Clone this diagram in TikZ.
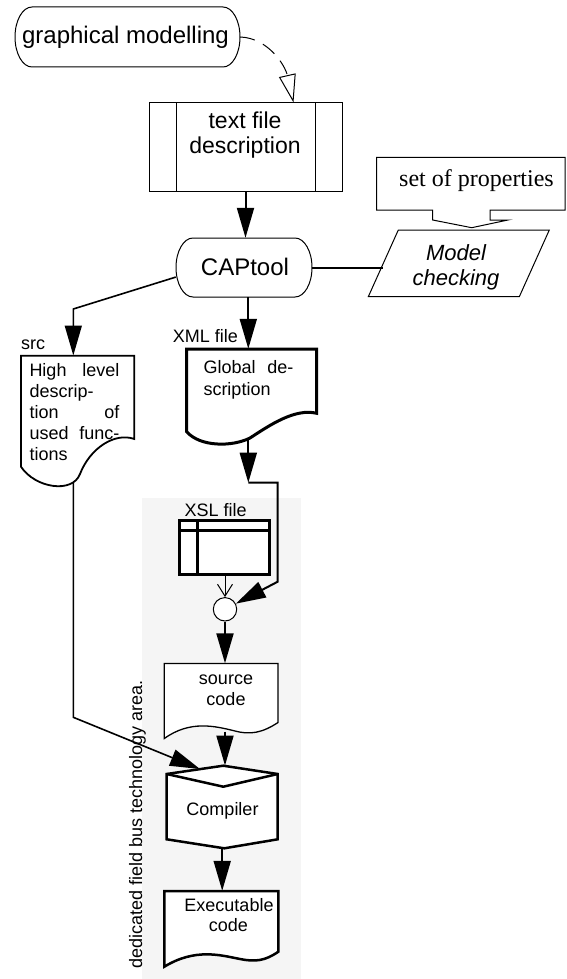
\documentclass[tikz,border=0pt]{standalone}
\usepackage{fontspec}
\setmainfont{Liberation Sans}
\newfontfamily\timesfont{Liberation Serif}
\usetikzlibrary{arrows.meta,calc}
\definecolor{areagrey}{HTML}{F5F5F5}
\begin{document}
\begin{tikzpicture}[x=1pt,y=-1pt,
  big/.style={font=\fontsize{24}{21}\selectfont, inner sep=0pt},
  bigtwo/.style={font=\fontsize{23}{25.8}\selectfont, inner sep=0pt},
  small/.style={font=\fontsize{18}{21}\selectfont, inner sep=0pt},
  mcfont/.style={font=\fontsize{22}{24.8}\selectfont\itshape, inner sep=0pt},
  frame/.style={draw=none, inner sep=0pt, rectangle},
  thinline/.style={line width=1pt},
  conn/.style={line width=2pt},
  tipfill/.style={-{Triangle[length=30pt,width=17pt]}},
]
\useasboundingbox (0,0) rectangle (566,979);
\fill[areagrey] (142,498) rectangle (301,979);

% graphical modelling
\node[frame, minimum width=225pt, minimum height=60pt] (gm) at (127.5,37) {};
\draw[thinline, fill=white] (32,7) -- (223,7) .. controls (232.4,7) and (240,20.4) .. (240,37) .. controls (240,53.6) and (232.4,67) .. (223,67) -- (32,67) .. controls (22.6,67) and (15,53.6) .. (15,37) .. controls (15,20.4) and (22.6,7) .. (32,7) -- cycle;
\node[big, anchor=base] (gmt) at (125.5,44) {graphical modelling};

% text file description
\node[draw, thinline, fill=white, minimum width=193pt, minimum height=88pt, inner sep=0pt] (tf) at (245.5,147) {};
\draw[thinline] (176.7,103) -- (176.7,191) (315.7,103) -- (315.7,191);
\node[bigtwo, align=center] (tft) at (245,135) {text file\\description};

% CAPtool
\node[frame, minimum width=136pt, minimum height=59pt] (cap) at (244,267.5) {};
\draw[thinline, fill=white] (193,238) -- (295,238) .. controls (304.4,238) and (312,251.2) .. (312,267.5) .. controls (312,283.8) and (304.4,297) .. (295,297) -- (193,297) .. controls (183.6,297) and (176,283.8) .. (176,267.5) .. controls (176,251.2) and (183.6,238) .. (193,238) -- cycle;
\node[big, anchor=base] (capt) at (245,275) {CAPtool};

% set of properties with block arrow
\node[frame, minimum width=188.3pt, minimum height=52.7pt] (sp) at (470.85,183.65) {};
\draw[thinline, fill=white] (432.7,210) -- (376.7,210) -- (376.7,157.3) -- (565,157.3) -- (565,210) -- (490,210) -- (490,220) -- (508,220) -- (471.7,227.7) -- (432.7,220) -- cycle;
\node[anchor=base, font=\timesfont\fontsize{24}{21}\selectfont, inner sep=0pt] (spt) at (476.5,186.7) {set of properties};

% Model checking
\node[frame, minimum width=151pt, minimum height=66.7pt] (mc) at (458.8,263.3) {};
\draw[thinline, fill=white] (398.3,230) -- (549.3,230) -- (519.3,296.7) -- (368.3,296.7) -- cycle;
\node[mcfont, align=center] (mct) at (456,267) {Model\\checking};

% src document
\node[frame, minimum width=113.3pt, minimum height=126.3pt] (srcd) at (77.65,418.85) {};
\draw[line width=1.8pt, fill=white] (134.3,439) -- (134.3,355.7) -- (21,355.7) -- (21,466.7) .. controls (35,488) and (72.3,494) .. (80,474) .. controls (90,448) and (115,432) .. (134.3,439) -- cycle;
\node[small, anchor=base west] (srcl) at (21,349) {src};
\node[small, anchor=base west] (s1) at (29.3,376) {\makebox[90pt][s]{High level}};
\node[small, anchor=base west] (s2) at (29.3,397.1) {descrip-};
\node[small, anchor=base west] (s3) at (29.3,418.2) {\makebox[90pt][s]{tion of}};
\node[small, anchor=base west] (s4) at (29.3,439.3) {\makebox[90pt][s]{used func-}};
\node[small, anchor=base west] (s5) at (29.3,460.4) {tions};

% XML document
\node[frame, minimum width=130pt, minimum height=90pt] (xmld) at (251.7,394) {};
\draw[line width=3pt, fill=white] (316.7,413.3) -- (316.7,349) -- (186.7,349) -- (186.7,431.7) .. controls (200,447) and (232,447) .. (250,438) .. controls (270,425) and (295,408) .. (316.7,413.3) -- cycle;
\node[small, anchor=base west] (xmll) at (172.7,342.3) {XML file};
\node[small, anchor=base west] (g1) at (203.3,373.3) {\makebox[90pt][s]{Global de-}};
\node[small, anchor=base west] (g2) at (203.3,395) {scription};

% XSL table
\node[draw, line width=3pt, fill=white, minimum width=90pt, minimum height=54pt, inner sep=0pt] (xsl) at (224,547) {};
\draw[line width=3pt] (179,530) -- (269,530) (197.7,520) -- (197.7,574);
\node[small, anchor=base west] (xsll) at (184.3,516) {XSL file};

% junction circle
\node[circle, draw, thinline, fill=white, minimum size=23.4pt, inner sep=0pt] (circ) at (225,609.3) {};

% source code document
\node[frame, minimum width=113.7pt, minimum height=68.2pt] (srcc) at (221.15,697.6) {};
\draw[line width=1.3pt, fill=white] (278,722.5) -- (278,663.5) -- (164.3,663.5) -- (164.3,738.5) .. controls (190,720) and (215,726) .. (235,731) .. controls (250,735) and (262,733) .. (278,722.5) -- cycle;
\node[small, anchor=base] (sc1) at (226,684) {source};
\node[small, anchor=base] (sc2) at (226,705) {code};

% Compiler
\node[frame, minimum width=111pt, minimum height=82.6pt] (comp) at (222.2,807) {};
\draw[line width=2.5pt, fill=white] (166.7,774) -- (223.3,765.7) -- (277.7,774) -- (277.7,839.3) -- (224.3,848.3) -- (166.7,839.3) -- cycle;
\draw[line width=2.5pt] (166.7,774) -- (223.3,786.7) -- (277.7,774);
\node[small, anchor=base] (compt) at (222.5,815) {Compiler};

% Executable document
\node[frame, minimum width=114pt, minimum height=70pt] (exe) at (221.3,926) {};
\draw[line width=2.5pt, fill=white] (278.3,951.7) -- (278.3,891) -- (164.3,891) -- (164.3,966.7) .. controls (195,948) and (220,955) .. (240,959) .. controls (255,962) and (265,961) .. (278.3,951.7) -- cycle;
\node[small, anchor=base] (ex1) at (229,911.7) {Executable};
\node[small, anchor=base] (ex2) at (228.3,931.7) {code};

% rotated area label
\node[small, rotate=90, anchor=base east] (area) at (142,680) {dedicated field bus technology area.};

% connectors
\coordinate (tfin) at ($(tf.north west)+(145,0)$);
\draw[thinline, dash pattern=on 15pt off 9pt, -{Triangle[open,length=28pt,width=17pt,fill=white]}] (gm.east) .. controls (268,38) and (285,65) .. (tfin);
\draw[conn, tipfill] (tf.south) -- (tf.south |- cap.north);
\draw[conn] (cap.east) -- (cap.east -| mc.west);
\coordinate (b1) at (73.3,309);
\draw[line width=1.6pt, tipfill] (cap.188) -- (b1) -- (b1 |- srcd.north);
\coordinate (xtop) at ($(cap.south)+(4.3,0)$);
\draw[conn, tipfill] (xtop) -- (xtop |- xmld.north);
\coordinate (xbot) at (xtop |- xmld.south);
\coordinate (corner) at (248.3,482.7);
\draw[conn, tipfill] (xbot) -- (corner);
\coordinate (r1) at (277.7,482.7);
\coordinate (r2) at (277.7,581.7);
\draw[conn, tipfill] (corner) -- (r1) -- (r2) -- (circ);
\draw[thinline, -{Straight Barb[length=12pt,width=15pt]}] (xsl.south -| circ.north) -- (circ.north);
\draw[conn, tipfill] (circ.south) -- (circ.south |- srcc.north);
\coordinate (srcbot) at (b1 |- srcd.south);
\coordinate (l1) at (73.3,717.3);
\coordinate (ctip) at (200,769);
\draw[line width=1.6pt, tipfill] (srcbot) -- (l1) -- (ctip);
\coordinate (sbot) at (225,731.7);
\draw[conn, tipfill] (sbot) -- (sbot |- comp.north);
\draw[conn, tipfill] (comp.south) -- (comp.south |- exe.north);
\end{tikzpicture}
\end{document}
